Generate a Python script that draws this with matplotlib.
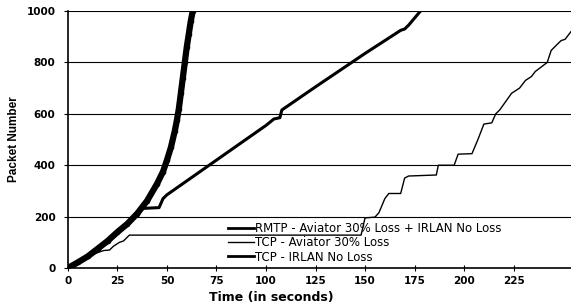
import numpy as np
import matplotlib
matplotlib.use("Agg")
import matplotlib.pyplot as plt

plt.rcParams['font.family'] = ['Liberation Sans', 'DejaVu Sans']

# RMTP - Aviator 30% Loss + IRLAN No Loss
rmtp_t = [0, 5, 10, 15, 20, 25, 30, 35, 40, 45, 48, 50, 52, 54, 55, 56, 57, 58, 59, 60, 61, 62, 63]
rmtp_p = [0, 22, 45, 75, 105, 140, 172, 212, 262, 328, 375, 420, 470, 535, 575, 620, 680, 740, 800, 860, 910, 960, 1000]

# TCP - Aviator 30% Loss
avi_t = [0, 5, 10, 15, 18, 21, 23, 26, 28, 31, 148, 150, 155, 157, 160, 162, 168, 170, 172, 186, 187, 195,
         197, 204, 207, 210, 214, 216, 218, 224, 228, 231, 234, 236, 242, 244, 247, 249, 251, 254]
avi_p = [0, 20, 42, 60, 68, 70, 85, 100, 105, 128, 128, 195, 198, 215, 270, 290, 290, 350, 358, 362, 400, 400,
         443, 445, 500, 560, 565, 600, 615, 680, 700, 730, 745, 765, 800, 847, 870, 885, 890, 920]

# TCP - IRLAN No Loss
irl_t = [0, 10, 20, 30, 35, 38, 46, 48, 50, 75, 100, 104, 107, 108, 125, 150, 168, 170, 172, 178]
irl_p = [0, 50, 100, 170, 215, 232, 235, 270, 285, 420, 555, 580, 585, 615, 705, 835, 925, 930, 945, 1000]

x_ticks = [0, 25, 50, 75, 100, 125, 150, 175, 200, 225]
y_ticks = [0, 200, 400, 600, 800, 1000]

fig = plt.figure(figsize=(5.71, 3.07), dpi=100)
ax = fig.add_axes([0.119, 0.127, 0.881, 0.837])

for y in y_ticks[1:]:
    ax.axhline(y, color='black', lw=0.8, zorder=0)

ax.plot(rmtp_t, rmtp_p, color='black', lw=4.5, marker='o', ms=3,
        label='RMTP - Aviator 30% Loss + IRLAN No Loss')
ax.plot(avi_t, avi_p, color='black', lw=1.0, label='TCP - Aviator 30% Loss')
ax.plot(irl_t, irl_p, color='black', lw=2.2, label='TCP - IRLAN No Loss')

ax.set_xlim(0, 254)
ax.set_ylim(0, 1000)
ax.set_xticks(x_ticks)
ax.set_yticks(y_ticks)
for s in ['top', 'right']:
    ax.spines[s].set_visible(False)
ax.spines['left'].set_linewidth(1.2)
ax.spines['bottom'].set_linewidth(1.2)
ax.tick_params(axis='x', direction='inout', length=5, labelsize=7.5, pad=3)
ax.tick_params(axis='y', direction='out', length=3, labelsize=7.5, pad=6)
for lab in ax.get_xticklabels() + ax.get_yticklabels():
    lab.set_fontweight('bold')
    lab.set_family(['DejaVu Sans'])

ax.set_xlabel('Time (in seconds)', fontsize=9, fontweight='bold', family=['DejaVu Sans'])
ax.xaxis.set_label_coords(0.405, -0.09)
ax.set_ylabel('Packet Number', fontsize=8.5, fontweight='bold')
ax.yaxis.set_label_coords(-0.095, 0.5)

leg = ax.legend(loc='upper left', bbox_to_anchor=(0.318, 0.18), frameon=False,
                prop={'family': ['DejaVu Sans'], 'size': 8.5}, handlelength=2.2,
                handletextpad=0.1, labelspacing=0.12, borderaxespad=0, borderpad=0)
hl = leg.legend_handles
hl[0].set_linewidth(2)
hl[0].set_markersize(0)
hl[2].set_linewidth(2)

fig.savefig('out.png', dpi=100)
